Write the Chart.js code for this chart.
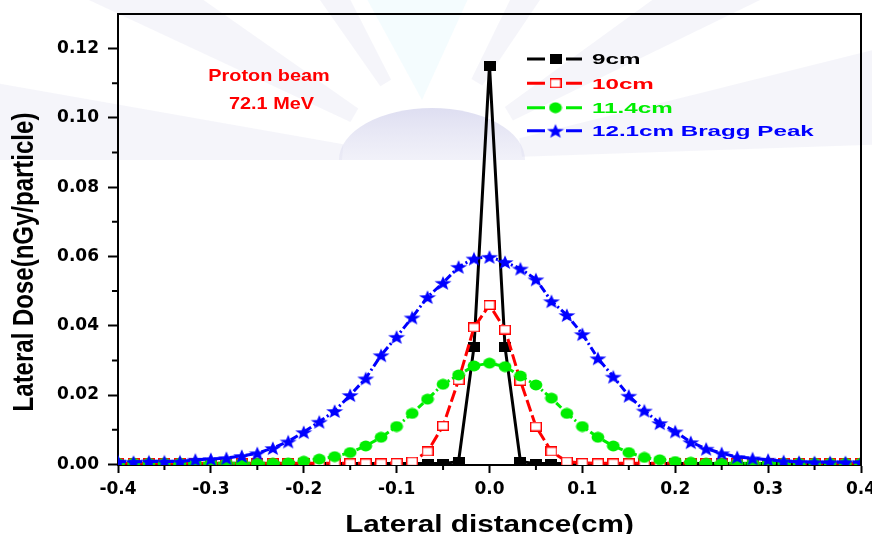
<!DOCTYPE html>
<html>
<head>
<meta charset="utf-8">
<script src="https://cdn.jsdelivr.net/npm/chart.js@4"></script>
<style>
  html, body { margin: 0; padding: 0; background: #fff; }
  #wrap { width: 872px; height: 534px; }
</style>
</head>
<body>
<div id="wrap"><canvas id="doseChart" width="872" height="534"></canvas></div>
<script>
// lateral positions (cm), one sample every 1/60 cm
const xValues = [-0.4, -0.3833, -0.3667, -0.35, -0.3333, -0.3167, -0.3, -0.2833, -0.2667, -0.25,
  -0.2333, -0.2167, -0.2, -0.1833, -0.1667, -0.15, -0.1333, -0.1167, -0.1, -0.0833,
  -0.0667, -0.05, -0.0333, -0.0167, 0, 0.0167, 0.0333, 0.05, 0.0667, 0.0833,
  0.1, 0.1167, 0.1333, 0.15, 0.1667, 0.1833, 0.2, 0.2167, 0.2333, 0.25,
  0.2667, 0.2833, 0.3, 0.3167, 0.3333, 0.35, 0.3667, 0.3833, 0.4];

// lateral dose (nGy/particle) at each depth
const dose9cm = [0.0002, 0.0002, 0.0002, 0.0002, 0.0002, 0.0002, 0.0002, 0.0002, 0.0002, 0.0002,
  0.0002, 0.0002, 0.0002, 0.0002, 0.0002, 0.0002, 0.0002, 0.0002, 0.0002, 0.0002,
  0.0002, 0.0002, 0.0008, 0.0339, 0.1151, 0.0339, 0.0008, 0.0002, 0.0002, 0.0002,
  0.0002, 0.0002, 0.0002, 0.0002, 0.0002, 0.0002, 0.0002, 0.0002, 0.0002, 0.0002,
  0.0002, 0.0002, 0.0002, 0.0002, 0.0002, 0.0002, 0.0002, 0.0002, 0.0002];
const dose10cm = [0.0003, 0.0003, 0.0003, 0.0003, 0.0003, 0.0003, 0.0003, 0.0003, 0.0003, 0.0003,
  0.0003, 0.0003, 0.0003, 0.0003, 0.0003, 0.0003, 0.0003, 0.0003, 0.0004, 0.0008,
  0.0037, 0.0111, 0.0243, 0.0395, 0.0460, 0.0389, 0.0241, 0.0109, 0.0037, 0.0008,
  0.0004, 0.0003, 0.0003, 0.0003, 0.0003, 0.0003, 0.0003, 0.0003, 0.0003, 0.0003,
  0.0003, 0.0003, 0.0003, 0.0003, 0.0003, 0.0003, 0.0003, 0.0003, 0.0003];
const dose11cm = [0.0003, 0.0003, 0.0003, 0.0003, 0.0003, 0.0003, 0.0003, 0.0003, 0.0003, 0.0003,
  0.0003, 0.0004, 0.0009, 0.0015, 0.0022, 0.0034, 0.0053, 0.0078, 0.0109, 0.0147,
  0.0188, 0.0231, 0.0258, 0.0284, 0.0292, 0.0282, 0.0255, 0.0229, 0.0191, 0.0147,
  0.0109, 0.0078, 0.0053, 0.0034, 0.0020, 0.0013, 0.0008, 0.0006, 0.0003, 0.0003,
  0.0003, 0.0003, 0.0003, 0.0003, 0.0003, 0.0003, 0.0003, 0.0003, 0.0003];
const dose12cm = [0.0008, 0.0007, 0.0008, 0.0008, 0.0008, 0.0013, 0.0015, 0.0018, 0.0024, 0.0032,
  0.0047, 0.0066, 0.0093, 0.0123, 0.0154, 0.0200, 0.0248, 0.0315, 0.0368, 0.0424,
  0.0483, 0.0524, 0.0570, 0.0594, 0.0599, 0.0584, 0.0565, 0.0534, 0.0471, 0.0431,
  0.0376, 0.0306, 0.0253, 0.0198, 0.0155, 0.0119, 0.0095, 0.0064, 0.0045, 0.0032,
  0.0021, 0.0017, 0.0013, 0.0009, 0.0007, 0.0006, 0.0006, 0.0006, 0.0006];

const seriesNames = ['9cm', '10cm', '11.4cm', '12.1cm Bragg Peak'];
const xTicks = [-0.4, -0.3, -0.2, -0.1, 0, 0.1, 0.2, 0.3, 0.4];
const xTickLabels = ['-0.4', '-0.3', '-0.2', '-0.1', '0.0', '0.1', '0.2', '0.3', '0.4'];
const xMinorTicks = [-0.35, -0.25, -0.15, -0.05, 0.05, 0.15, 0.25, 0.35];
const yTicks = [0, 0.02, 0.04, 0.06, 0.08, 0.10, 0.12];
const yTickLabels = ['0.00', '0.02', '0.04', '0.06', '0.08', '0.10', '0.12'];
const yMinorTicks = [0.01, 0.03, 0.05, 0.07, 0.09, 0.11];
const noteLines = ['Proton beam', '72.1 MeV'];

const BLACK = '#000000', RED = '#ff0000', GREEN = '#00ee00', BLUE = '#0000ff';
const BOLD = '"Liberation Sans", Arial, sans-serif';

// marker images (the source symbols are a bit wider than tall)
function makeMarker(w, h, paint) {
  const c = document.createElement('canvas');
  c.width = w; c.height = h;
  paint(c.getContext('2d'), w, h);
  return c;
}
const squareFilled = makeMarker(12, 10, (g, w, h) => { g.fillStyle = BLACK; g.fillRect(0, 0, w, h); });
const squareOpen = makeMarker(12, 10, (g, w, h) => {
  g.fillStyle = '#fff'; g.fillRect(0, 0, w, h);
  g.strokeStyle = RED; g.lineWidth = 1.4; g.strokeRect(0.7, 0.7, w - 1.4, h - 1.4);
});
const dotFilled = makeMarker(14, 12, (g, w, h) => {
  g.fillStyle = GREEN; g.beginPath(); g.ellipse(w / 2, h / 2, 6.4, 5.4, 0, 0, Math.PI * 2); g.fill();
});
const starFilled = makeMarker(18, 16, (g, w, h) => {
  g.fillStyle = BLUE;
  g.translate(w / 2, h / 2 + 0.8);
  g.scale(1.18, 1);
  g.beginPath();
  for (let i = 0; i < 10; i++) {
    const r = i % 2 === 0 ? 7.6 : 3.1;
    const a = -Math.PI / 2 + i * Math.PI / 5;
    g.lineTo(r * Math.cos(a), r * Math.sin(a));
  }
  g.closePath(); g.fill();
});
const markers = [squareFilled, squareOpen, dotFilled, starFilled];
const colors = [BLACK, RED, GREEN, BLUE];

function toPoints(arr) { return xValues.map((x, i) => ({ x, y: arr[i] })); }

function stretchText(ctx, text, x, y, sx, align) {
  ctx.save();
  ctx.translate(x, y);
  ctx.scale(sx, 1);
  ctx.textAlign = align;
  ctx.fillText(text, 0, 0);
  ctx.restore();
}

// faint watermark behind the plot
const watermark = {
  id: 'watermark',
  beforeDraw(chart) {
    const ctx = chart.ctx;
    const cx = 432, cy = 160, far = 1200;
    ctx.save();
    ctx.fillStyle = '#fff';
    ctx.fillRect(0, 0, chart.width, chart.height);
    const rays = [[175, 5], [150, 5], [121, 4], [60, 4], [31, 5], [8, 6]];
    ctx.fillStyle = 'rgba(190,190,225,0.16)';
    rays.forEach(([ang, half]) => {
      const a1 = (ang - half) * Math.PI / 180, a2 = (ang + half) * Math.PI / 180;
      ctx.beginPath();
      ctx.moveTo(cx + 90 * Math.cos(a1), cy - 90 * Math.sin(a1));
      ctx.lineTo(cx + far * Math.cos(a1), cy - far * Math.sin(a1));
      ctx.lineTo(cx + far * Math.cos(a2), cy - far * Math.sin(a2));
      ctx.lineTo(cx + 90 * Math.cos(a2), cy - 90 * Math.sin(a2));
      ctx.closePath();
      ctx.fill();
    });
    ctx.fillStyle = 'rgba(200,240,248,0.2)';
    ctx.beginPath();
    ctx.moveTo(cx - 10, cy - 60);
    ctx.lineTo(cx - 70, -10);
    ctx.lineTo(cx + 40, -10);
    ctx.closePath();
    ctx.fill();
    const grad = ctx.createLinearGradient(0, cy - 52, 0, cy);
    grad.addColorStop(0, 'rgba(200,200,232,0.6)');
    grad.addColorStop(1, 'rgba(215,215,238,0.35)');
    ctx.fillStyle = grad;
    ctx.beginPath();
    ctx.ellipse(cx, cy, 93, 52, 0, Math.PI, Math.PI * 2);
    ctx.closePath();
    ctx.fill();
    ctx.restore();
  }
};

// frame, minor ticks, titles, note and legend
const decorations = {
  id: 'decorations',
  afterDraw(chart) {
    const ctx = chart.ctx;
    const { left, right, top, bottom } = chart.chartArea;
    const xs = chart.scales.x, ys = chart.scales.y;
    ctx.save();
    ctx.strokeStyle = BLACK;
    ctx.lineWidth = 2;
    ctx.beginPath();
    ctx.moveTo(left - 1, top); ctx.lineTo(right, top); ctx.lineTo(right, bottom + 1);
    ctx.stroke();
    ctx.beginPath();
    xMinorTicks.forEach(v => {
      const px = xs.getPixelForValue(v);
      ctx.moveTo(px, bottom); ctx.lineTo(px, bottom + 5);
    });
    yMinorTicks.forEach(v => {
      const py = ys.getPixelForValue(v);
      ctx.moveTo(left, py); ctx.lineTo(left - 6, py);
    });
    ctx.stroke();

    ctx.fillStyle = BLACK;
    ctx.textBaseline = 'alphabetic';
    ctx.font = 'bold 23px ' + BOLD;
    stretchText(ctx, 'Lateral distance(cm)', (left + right) / 2, 531.5, 1.29, 'center');

    ctx.save();
    ctx.translate(32.5, 262);
    ctx.rotate(-Math.PI / 2);
    ctx.scale(1, 1.25);
    ctx.font = 'bold 24px ' + BOLD;
    ctx.textAlign = 'center';
    ctx.fillText('Lateral Dose(nGy/particle)', 0, 0);
    ctx.restore();

    ctx.fillStyle = RED;
    ctx.font = 'bold 16.3px ' + BOLD;
    stretchText(ctx, noteLines[0], 269, 80.7, 1.22, 'center');
    stretchText(ctx, noteLines[1], 271.5, 109, 1.22, 'center');

    const rows = [59, 83.3, 107.7, 130.7];
    ctx.font = 'bold 15.5px ' + BOLD;
    ctx.textBaseline = 'middle';
    seriesNames.forEach((name, i) => {
      const y = rows[i];
      ctx.strokeStyle = colors[i];
      ctx.lineWidth = 3;
      ctx.beginPath();
      ctx.moveTo(527, y); ctx.lineTo(545, y);
      ctx.moveTo(566, y); ctx.lineTo(582, y);
      ctx.stroke();
      const m = markers[i];
      ctx.drawImage(m, 555.5 - m.width / 2, y - m.height / 2);
      ctx.fillStyle = colors[i];
      stretchText(ctx, name, 592, y + 1, 1.56, 'left');
    });
    ctx.restore();
  }
};

const lineStyles = [
  { width: 3, dash: [] },
  { width: 3, dash: [12, 4] },
  { width: 3, dash: [7, 3, 2, 3] },
  { width: 3, dash: [8, 3, 2, 3] }
];
const allDoses = [dose9cm, dose10cm, dose11cm, dose12cm];

new Chart(document.getElementById('doseChart'), {
  type: 'line',
  data: {
    datasets: allDoses.map((arr, i) => ({
      label: seriesNames[i],
      data: toPoints(arr),
      order: allDoses.length - i, // later series drawn on top
      borderColor: colors[i],
      backgroundColor: colors[i],
      borderWidth: lineStyles[i].width,
      borderDash: lineStyles[i].dash,
      pointStyle: markers[i],
      pointRadius: 5,
      pointHoverRadius: 5,
      tension: 0,
      fill: false
    }))
  },
  options: {
    responsive: false,
    devicePixelRatio: 1,
    animation: false,
    layout: { padding: { left: 0, top: 14, right: 11, bottom: 0 } },
    plugins: {
      legend: { display: false },
      tooltip: { enabled: false }
    },
    scales: {
      x: {
        type: 'linear',
        min: -0.4,
        max: 0.4,
        afterBuildTicks: s => { s.ticks = xTicks.map(v => ({ value: v })); },
        afterFit: s => { s.height = 69; s.paddingLeft = 0; s.paddingRight = 0; },
        border: { color: BLACK, width: 2 },
        grid: { drawOnChartArea: false, drawTicks: true, tickLength: 8, tickWidth: 2, tickColor: BLACK },
        ticks: {
          padding: 6,
          color: BLACK,
          maxRotation: 0,
          autoSkip: false,
          font: { family: 'DejaVu Sans', weight: 'bold', size: 17 },
          callback: (v, i) => xTickLabels[i]
        }
      },
      y: {
        min: -0.0002,
        max: 0.13,
        afterBuildTicks: s => { s.ticks = yTicks.map(v => ({ value: v })); },
        afterFit: s => { s.width = 118; s.paddingTop = 0; s.paddingBottom = 0; },
        border: { color: BLACK, width: 2 },
        grid: { drawOnChartArea: false, drawTicks: true, tickLength: 10, tickWidth: 2, tickColor: BLACK },
        ticks: {
          padding: 9,
          color: BLACK,
          autoSkip: false,
          font: { family: 'DejaVu Sans', weight: 'bold', size: 17 },
          callback: (v, i) => yTickLabels[i]
        }
      }
    }
  },
  plugins: [watermark, decorations]
});
</script>
</body>
</html>
